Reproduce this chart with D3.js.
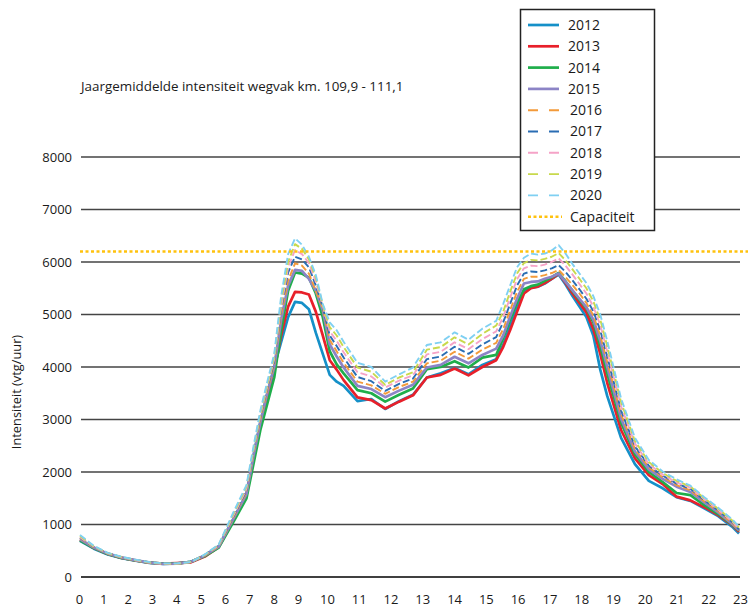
<!DOCTYPE html>
<html>
<head>
<meta charset="utf-8">
<script src="https://cdn.jsdelivr.net/npm/d3@7"></script>
<style>
  html, body { margin: 0; padding: 0; background: #fff; }
  svg { display: block; font-family: 'Open Sans', Lato, sans-serif; }
</style>
</head>
<body>
<svg id="chart" width="748" height="612"></svg>
<script>
// quarter-hour index of each point (0 = 00:00, 95 = 23:45)
const quarters = [0, 2, 4, 6, 8, 10, 12, 14, 16, 18, 20, 22, 24,
  25, 26, 27, 28, 29, 30, 31, 32, 33, 34, 35, 36, 37, 38,
  40, 42, 44, 46, 48, 50, 52, 54, 56, 58, 60,
  61, 62, 63, 64, 65, 66, 67, 68, 69, 70, 71, 72, 73, 74, 75, 76,
  78, 80, 82, 84, 86, 88, 90, 92, 94, 95];

const years = ['2012', '2013', '2014', '2015', '2016', '2017', '2018', '2019', '2020'];

const v2012 = [690, 540, 430, 360, 310, 270, 250, 260, 290, 410, 590, 1080, 1580,
  2300, 2950, 3500, 4000, 4480, 4950, 5240, 5220, 5100, 4650, 4250, 3850, 3720, 3640,
  3350, 3390, 3200, 3350, 3470, 3800, 3880, 3980, 3860, 4040, 4150,
  4420, 4780, 5120, 5440, 5510, 5530, 5590, 5680, 5760, 5570, 5350, 5150, 4950, 4600, 3950, 3450,
  2650, 2150, 1830, 1690, 1520, 1450, 1310, 1160, 960, 830];
const v2013 = [710, 550, 440, 365, 315, 275, 255, 265, 280, 390, 570, 1060, 1560,
  2250, 2900, 3450, 3950, 4600, 5150, 5430, 5420, 5380, 5050, 4600, 4130, 3950, 3750,
  3420, 3370, 3210, 3340, 3460, 3800, 3850, 3970, 3840, 4000, 4130,
  4380, 4700, 5050, 5400, 5500, 5530, 5600, 5680, 5780, 5600, 5400, 5220, 5040, 4720, 4250, 3700,
  2800, 2260, 1940, 1770, 1530, 1460, 1330, 1180, 990, 860];
const v2014 = [700, 550, 440, 365, 315, 275, 255, 255, 290, 400, 560, 1020, 1500,
  2150, 2800, 3300, 3800, 4700, 5450, 5800, 5780, 5700, 5400, 4950, 4300, 4050, 3880,
  3560, 3500, 3340, 3470, 3590, 3960, 4000, 4110, 3990, 4180, 4230,
  4550, 4900, 5230, 5480, 5540, 5570, 5640, 5710, 5790, 5630, 5450, 5280, 5120, 4850, 4400, 3880,
  2940, 2340, 2000, 1810, 1600, 1560, 1370, 1200, 1000, 880];
const v2015 = [720, 560, 445, 370, 320, 275, 250, 255, 290, 410, 580, 1080, 1580,
  2300, 2950, 3500, 4000, 4900, 5550, 5850, 5830, 5680, 5450, 5080, 4430, 4200, 3990,
  3640, 3580, 3425, 3550, 3660, 3990, 4040, 4195, 4070, 4230, 4350,
  4600, 4960, 5300, 5590, 5620, 5630, 5680, 5720, 5780, 5620, 5460, 5300, 5140, 4900, 4500, 4000,
  3020, 2390, 2050, 1870, 1720, 1620, 1420, 1230, 1010, 890];
const v2016 = [740, 565, 445, 370, 315, 270, 245, 250, 285, 410, 590, 1100, 1620,
  2350, 3000, 3550, 4050, 5000, 5650, 5975, 5930, 5780, 5450, 5120, 4520, 4300, 4080,
  3720, 3650, 3490, 3620, 3720, 4070, 4120, 4290, 4160, 4330, 4460,
  4720, 5080, 5430, 5680, 5720, 5720, 5750, 5790, 5850, 5710, 5560, 5400, 5220, 4980, 4600, 4100,
  3100, 2440, 2090, 1900, 1750, 1650, 1440, 1250, 1030, 900];
const v2017 = [750, 570, 450, 375, 320, 275, 250, 250, 290, 420, 600, 1120, 1650,
  2380, 3050, 3600, 4100, 5100, 5800, 6100, 6050, 5900, 5550, 5140, 4600, 4400, 4180,
  3810, 3730, 3545, 3680, 3780, 4150, 4200, 4385, 4250, 4430, 4570,
  4850, 5200, 5550, 5780, 5820, 5810, 5840, 5880, 5940, 5810, 5650, 5480, 5300, 5060, 4700, 4200,
  3170, 2490, 2120, 1930, 1780, 1680, 1460, 1270, 1050, 910];
const v2018 = [760, 575, 450, 375, 320, 275, 250, 250, 285, 420, 600, 1140, 1680,
  2400, 3080, 3630, 4150, 5150, 5900, 6230, 6150, 5980, 5620, 5160, 4680, 4500, 4280,
  3900, 3820, 3610, 3740, 3840, 4240, 4290, 4470, 4340, 4530, 4680,
  4950, 5320, 5670, 5880, 5930, 5920, 5950, 6000, 6070, 5930, 5760, 5580, 5400, 5150, 4800, 4300,
  3250, 2540, 2150, 1950, 1800, 1700, 1480, 1280, 1060, 920];
const v2019 = [780, 585, 455, 380, 325, 280, 255, 255, 285, 425, 610, 1170, 1720,
  2430, 3120, 3670, 4200, 5250, 6000, 6340, 6250, 6050, 5700, 5180, 4760, 4600, 4380,
  3990, 3910, 3660, 3800, 3900, 4330, 4380, 4565, 4430, 4630, 4790,
  5050, 5430, 5780, 5980, 6040, 6030, 6060, 6100, 6170, 6030, 5860, 5680, 5500, 5250, 4900, 4400,
  3330, 2590, 2190, 1980, 1830, 1720, 1500, 1300, 1080, 940];
const v2020 = [800, 595, 460, 385, 330, 285, 260, 260, 285, 430, 620, 1200, 1750,
  2480, 3170, 3720, 4250, 5350, 6150, 6450, 6330, 6100, 5750, 5200, 4850, 4700, 4480,
  4080, 4000, 3720, 3860, 3990, 4420, 4470, 4660, 4520, 4730, 4880,
  5200, 5550, 5900, 6080, 6160, 6140, 6160, 6220, 6320, 6160, 5960, 5780, 5600, 5350, 5000, 4500,
  3400, 2650, 2230, 2010, 1860, 1740, 1520, 1320, 1100, 960];

const capaciteit = 6200;

const yTicks = [0, 1000, 2000, 3000, 4000, 5000, 6000, 7000, 8000];
const hourTicks = d3.range(0, 24);

const seriesValues = [v2012, v2013, v2014, v2015, v2016, v2017, v2018, v2019, v2020];
const colors = ['#1590c8', '#e8202a', '#1fae4b', '#8c84c6', '#f39a3a', '#2a6db3', '#f5a3c7', '#c8d94c', '#7fd0f2'];

const conf = {
  left: 80,
  right: 739,
  top: 157,
  bottom: 577,
  fontSize: 13
};

const svg = d3.select('#chart');

const x = d3.scaleLinear().domain([0, 95]).range([conf.left, conf.right]);
// hour labels are not evenly spread in the picture
const xLabel = d3.scaleLinear().domain([0, 9, 10, 23]).range([79, 298, 327, 740]);
const y = d3.scaleLinear().domain([0, 8000]).range([conf.bottom, conf.top]);

// title
svg.append('text')
  .attr('x', 81)
  .attr('y', 91)
  .attr('font-size', 13.4)
  .attr('fill', '#1a1a1a')
  .text('Jaargemiddelde intensiteit wegvak km. 109,9 - 111,1');

// gridlines
svg.append('g')
  .selectAll('line')
  .data(yTicks)
  .join('line')
  .attr('x1', 81)
  .attr('x2', 740)
  .attr('y1', d => y(d))
  .attr('y2', d => y(d))
  .attr('stroke', d => (d === 0 ? '#000' : '#444'))
  .attr('stroke-width', 1.3);

const yAxis = svg.append('g')
  .attr('transform', 'translate(72,0)')
  .call(d3.axisLeft(y).tickValues(yTicks).tickSize(0).tickPadding(0).tickFormat(d3.format('d')));
yAxis.select('.domain').remove();
yAxis.selectAll('text')
  .attr('font-size', conf.fontSize)
  .attr('font-family', "'Open Sans', sans-serif")
  .attr('fill', '#1a1a1a');

const xAxis = svg.append('g')
  .attr('transform', 'translate(0,595)')
  .call(d3.axisBottom(xLabel).tickValues(hourTicks).tickSize(0).tickPadding(0));
xAxis.select('.domain').remove();
xAxis.selectAll('text')
  .attr('font-size', conf.fontSize)
  .attr('font-family', "'Open Sans', sans-serif")
  .attr('fill', '#1a1a1a');

// y axis title
svg.append('text')
  .attr('transform', 'translate(21,392) rotate(-90)')
  .attr('text-anchor', 'middle')
  .attr('font-size', 12.8)
  .attr('fill', '#1a1a1a')
  .text('Intensiteit (vtg/uur)');

const line = d3.line()
  .x((d, i) => x(quarters[i]))
  .y(d => y(d));

const lines = svg.append('g').attr('fill', 'none').attr('stroke-linejoin', 'round');
seriesValues.forEach(function(vals, i) {
  const dashed = i >= 4;
  lines.append('path')
    .attr('d', line(vals))
    .attr('stroke', colors[i])
    .attr('stroke-width', dashed ? 1.9 : 2.7)
    .attr('stroke-dasharray', dashed ? '7,3' : null);
});

// capacity
svg.append('line')
  .attr('x1', conf.left)
  .attr('x2', 748)
  .attr('y1', y(capaciteit))
  .attr('y2', y(capaciteit))
  .attr('stroke', '#ffc20e')
  .attr('stroke-width', 2.5)
  .attr('stroke-dasharray', '3,2.5');

// legend
const legend = svg.append('g');
legend.append('rect')
  .attr('x', 520.5)
  .attr('y', 9.5)
  .attr('width', 134)
  .attr('height', 221)
  .attr('fill', '#fff')
  .attr('stroke', '#222')
  .attr('stroke-width', 1.5);

const legendItems = years.concat(['Capaciteit']);
legendItems.forEach(function(name, i) {
  const ly = 25 + i * 21.3;
  const isCap = i === legendItems.length - 1;
  const dashed = i >= 4 && !isCap;
  legend.append('line')
    .attr('x1', 528)
    .attr('x2', isCap ? 562 : 559)
    .attr('y1', ly)
    .attr('y2', ly)
    .attr('stroke', isCap ? '#ffc20e' : colors[i])
    .attr('stroke-width', isCap ? 2.5 : dashed ? 1.9 : 2.7)
    .attr('stroke-dasharray', isCap ? '3,2.5' : dashed ? '10,11' : null);
  legend.append('text')
    .attr('x', dashed || isCap ? 570 : 568)
    .attr('y', ly)
    .attr('dy', '0.35em')
    .attr('font-size', 14)
    .attr('fill', '#1a1a1a')
    .text(name);
});
</script>
</body>
</html>
